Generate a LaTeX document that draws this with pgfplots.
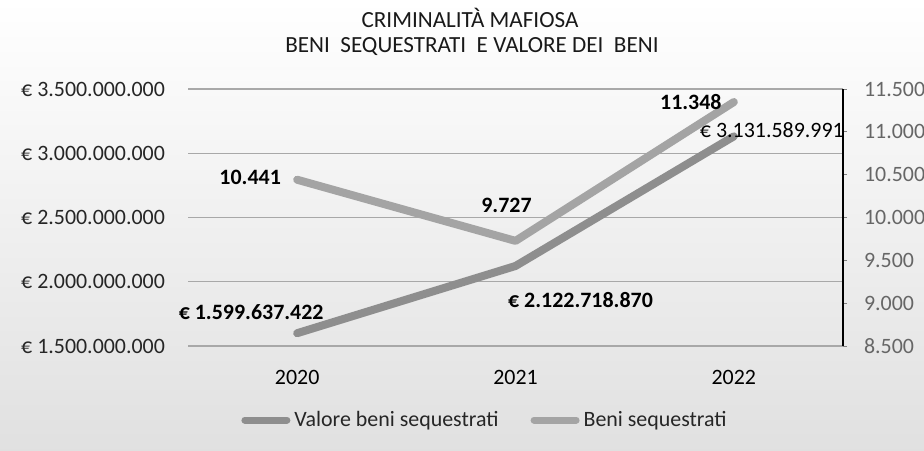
\documentclass[border=0pt]{standalone}
\usepackage{fontspec}
\setmainfont{Carlito}
\usepackage{pgfplots}
\pgfplotsset{compat=1.18}
\definecolor{lineA}{HTML}{8E8E8E}
\definecolor{lineB}{HTML}{A4A4A4}
\definecolor{gridc}{HTML}{A8A8A8}
\begin{document}
\begin{tikzpicture}[x=1bp,y=1bp]
\shade[top color=white, middle color=white, bottom color=black!12] (0,0) rectangle (462,225);
\useasboundingbox (0,0) rectangle (462,225);
\node[font=\fontsize{11.6}{14}\selectfont, text=black!90] at (235,216) {CRIMINALITÀ MAFIOSA};
\node[font=\fontsize{11.6}{14}\selectfont, text=black!90] at (236,201.5) {BENI\ \ SEQUESTRATI\ \ E VALORE DEI\ \ BENI};
\begin{axis}[
  at={(94bp,52bp)}, anchor=south west, scale only axis,
  width=327.5bp, height=128.5bp,
  xmin=-0.5, xmax=2.5, ymin=1.5e9, ymax=3.5e9,
  scaled y ticks=false,
  xtick={0,1,2}, xticklabels={2020,2021,2022},
  ytick={1.5e9,2e9,2.5e9,3e9,3.5e9},
  yticklabels={€ 1.500.000.000,€ 2.000.000.000,€ 2.500.000.000,€ 3.000.000.000,€ 3.500.000.000},
  axis line style={draw=none}, major tick length=0pt,
  ymajorgrids, grid style={gridc, line width=0.7bp},
  font=\fontsize{11}{13}\selectfont,
  yticklabel style={anchor=east, xshift=-8bp, text=black!85},
  xticklabel style={anchor=center, yshift=-15.5bp, text=black},
  clip=false,
  legend style={draw=none, fill=none, at={(0.455,-0.288)}, anchor=center,
    legend columns=2, font=\fontsize{11}{13}\selectfont, text=black!85,
    /tikz/every even column/.append style={column sep=14bp},
    legend cell align=left},
  legend image code/.code={\draw[#1, line width=3.5bp, line cap=round] (0bp,0bp) -- (21bp,0bp);},
]
\addplot[lineA, line width=4bp, line cap=round, line join=round,
  nodes near coords, point meta=explicit symbolic,
  visualization depends on={value \thisrow{dx}\as\dx},
  visualization depends on={value \thisrow{dy}\as\dy},
  every node near coord/.append style={anchor=center, xshift=\dx bp, yshift=\dy bp, text=black, font=\fontsize{11}{13}\selectfont\bfseries}]
  table[x=x, y=y, meta=lab, col sep=comma, row sep=\\] {
  x,y,lab,dx,dy\\
  0,1599637422,€ 1.599.637.422,-23,10.5\\
  1,2122718870,€ 2.122.718.870,32.5,-17\\
  2,3131589991,\mdseries € 3.131.589.991,19,3\\
  };
\addlegendentry{Valore beni sequestrati}
\addlegendimage{lineB}
\addlegendentry{Beni sequestrati}
\end{axis}
\begin{axis}[
  at={(94bp,52bp)}, anchor=south west, scale only axis,
  width=327.5bp, height=128.5bp,
  xmin=-0.5, xmax=2.5, ymin=8500, ymax=11500,
  scaled y ticks=false,
  axis x line=none, axis y line*=right,
  ytick={8500,9000,9500,10000,10500,11000,11500},
  yticklabels={8.500,9.000,9.500,10.000,10.500,11.000,11.500},
  y axis line style={black, line width=0.9bp},
  ytick style={gray, line width=0.5bp},
  tick align=outside, major tick length=2bp,
  font=\fontsize{11}{13}\selectfont,
  yticklabel style={anchor=west, xshift=5bp, text=black!60},
  clip=false,
]
\addplot[lineB, line width=4bp, line cap=round, line join=round,
  nodes near coords, point meta=explicit symbolic,
  visualization depends on={value \thisrow{dx}\as\dx},
  visualization depends on={value \thisrow{dy}\as\dy},
  every node near coord/.append style={anchor=center, xshift=\dx bp, yshift=\dy bp, text=black, font=\fontsize{11}{13}\selectfont\bfseries}]
  table[x=x, y=y, meta=lab, col sep=comma, row sep=\\] {
  x,y,lab,dx,dy\\
  0,10441,10.441,-23.5,1\\
  1,9727,9.727,-4.5,18\\
  2,11348,11.348,-21.5,0\\
  };
\end{axis}
\end{tikzpicture}
\end{document}
